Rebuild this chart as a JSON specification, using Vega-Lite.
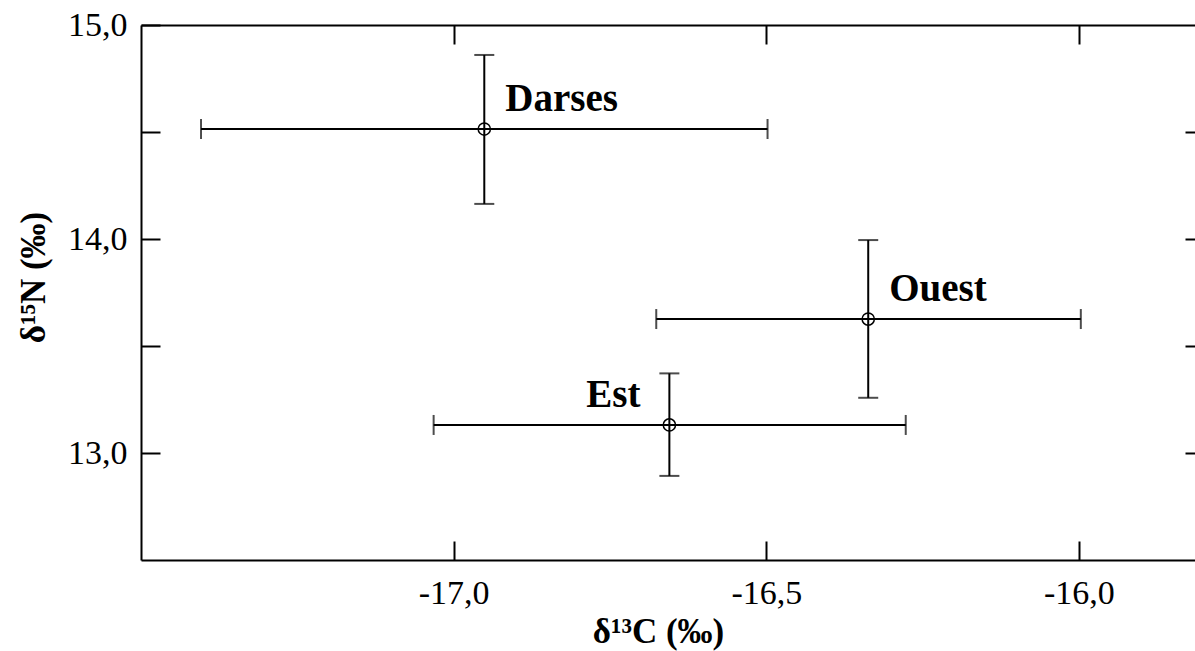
{
  "$schema": "https://vega.github.io/schema/vega-lite/v6.json",
  "width": 1054,
  "height": 535,
  "padding": {"left": 141, "top": 25, "right": 0, "bottom": 91},
  "autosize": {"type": "none"},
  "background": "white",
  "config": {
    "view": {"stroke": null},
    "font": "Liberation Serif",
    "axis": {
      "domainColor": "black", "domainWidth": 2,
      "tickColor": "black", "tickWidth": 2,
      "labelColor": "black", "titleColor": "black",
      "labelFont": "Liberation Serif", "titleFont": "Liberation Serif",
      "labelFontSize": 34, "titleFontSize": 35, "titleFontWeight": "bold",
      "grid": false
    }
  },
  "data": {
    "values": [
      {"group": "Darses", "x": -16.951, "y": 14.514, "xlo": -17.404, "xhi": -16.498, "ylo": 14.164, "yhi": 14.86},
      {"group": "Ouest", "x": -16.337, "y": 13.626, "xlo": -16.676, "xhi": -15.997, "ylo": 13.258, "yhi": 13.995},
      {"group": "Est", "x": -16.655, "y": 13.131, "xlo": -17.032, "xhi": -16.277, "ylo": 12.893, "yhi": 13.372}
    ]
  },
  "resolve": {"axis": {"x": "independent", "y": "independent"}},
  "layer": [
    {
      "mark": {"type": "rule", "color": "black", "strokeWidth": 2},
      "encoding": {
        "x": {
          "field": "xlo", "type": "quantitative",
          "scale": {"domain": [-17.5, -15.8144], "nice": false, "zero": false},
          "axis": {
            "orient": "bottom", "values": [-17, -16.5, -16],
            "labelExpr": "replace(replace(format(datum.value, '.1f'), '.', ','), '−', '-')",
            "tickSize": -19, "labelPadding": 35,
            "title": "δ¹³C (‰)", "titleX": 517, "titleY": 82,
            "titleAlign": "center", "titleBaseline": "alphabetic", "titleAnchor": null
          }
        },
        "x2": {"field": "xhi"},
        "y": {
          "field": "y", "type": "quantitative",
          "scale": {"domain": [12.5, 15], "nice": false, "zero": false},
          "axis": {
            "orient": "left", "values": [13, 13.5, 14, 14.5, 15],
            "labelExpr": "datum.value % 1 == 0 ? replace(format(datum.value, '.1f'), '.', ',') : ''",
            "tickSize": -19, "labelPadding": 33,
            "title": "δ¹⁵N (‰)", "titleX": -97, "titleY": 252,
            "titleAlign": "center", "titleBaseline": "alphabetic", "titleAngle": -90, "titleAnchor": null
          }
        }
      }
    },
    {
      "mark": {"type": "rule", "color": "black", "strokeWidth": 2},
      "encoding": {
        "x": {
          "field": "x", "type": "quantitative",
          "axis": {"orient": "top", "values": [-17, -16.5, -16], "labels": false, "tickSize": -19, "title": null}
        },
        "y": {
          "field": "ylo", "type": "quantitative",
          "axis": {"orient": "right", "values": [13, 13.5, 14, 14.5], "labels": false, "tickSize": -10, "domain": false, "title": null}
        },
        "y2": {"field": "yhi"}
      }
    },
    {
      "transform": [{"fold": ["xlo", "xhi"], "as": ["end", "xval"]}],
      "mark": {"type": "tick", "orient": "vertical", "color": "black", "size": 20, "thickness": 2},
      "encoding": {
        "x": {"field": "xval", "type": "quantitative", "axis": null},
        "y": {"field": "y", "type": "quantitative", "axis": null}
      }
    },
    {
      "transform": [{"fold": ["ylo", "yhi"], "as": ["end", "yval"]}],
      "mark": {"type": "tick", "orient": "horizontal", "color": "black", "size": 20, "thickness": 2},
      "encoding": {
        "x": {"field": "x", "type": "quantitative", "axis": null},
        "y": {"field": "yval", "type": "quantitative", "axis": null}
      }
    },
    {
      "mark": {"type": "point", "shape": "circle", "filled": false, "color": "black", "strokeWidth": 1.5, "size": 150, "opacity": 1},
      "encoding": {
        "x": {"field": "x", "type": "quantitative", "axis": null},
        "y": {"field": "y", "type": "quantitative", "axis": null}
      }
    },
    {
      "transform": [{"filter": "datum.group != 'Est'"}],
      "mark": {"type": "text", "align": "left", "baseline": "alphabetic", "dx": 21, "dy": -18, "font": "Liberation Serif", "fontWeight": "bold", "fontSize": 39, "color": "black"},
      "encoding": {
        "x": {"field": "x", "type": "quantitative", "axis": null},
        "y": {"field": "y", "type": "quantitative", "axis": null},
        "text": {"field": "group"}
      }
    },
    {
      "transform": [{"filter": "datum.group == 'Est'"}],
      "mark": {"type": "text", "align": "right", "baseline": "alphabetic", "dx": -29, "dy": -18, "font": "Liberation Serif", "fontWeight": "bold", "fontSize": 39, "color": "black"},
      "encoding": {
        "x": {"field": "x", "type": "quantitative", "axis": null},
        "y": {"field": "y", "type": "quantitative", "axis": null},
        "text": {"field": "group"}
      }
    }
  ]
}
